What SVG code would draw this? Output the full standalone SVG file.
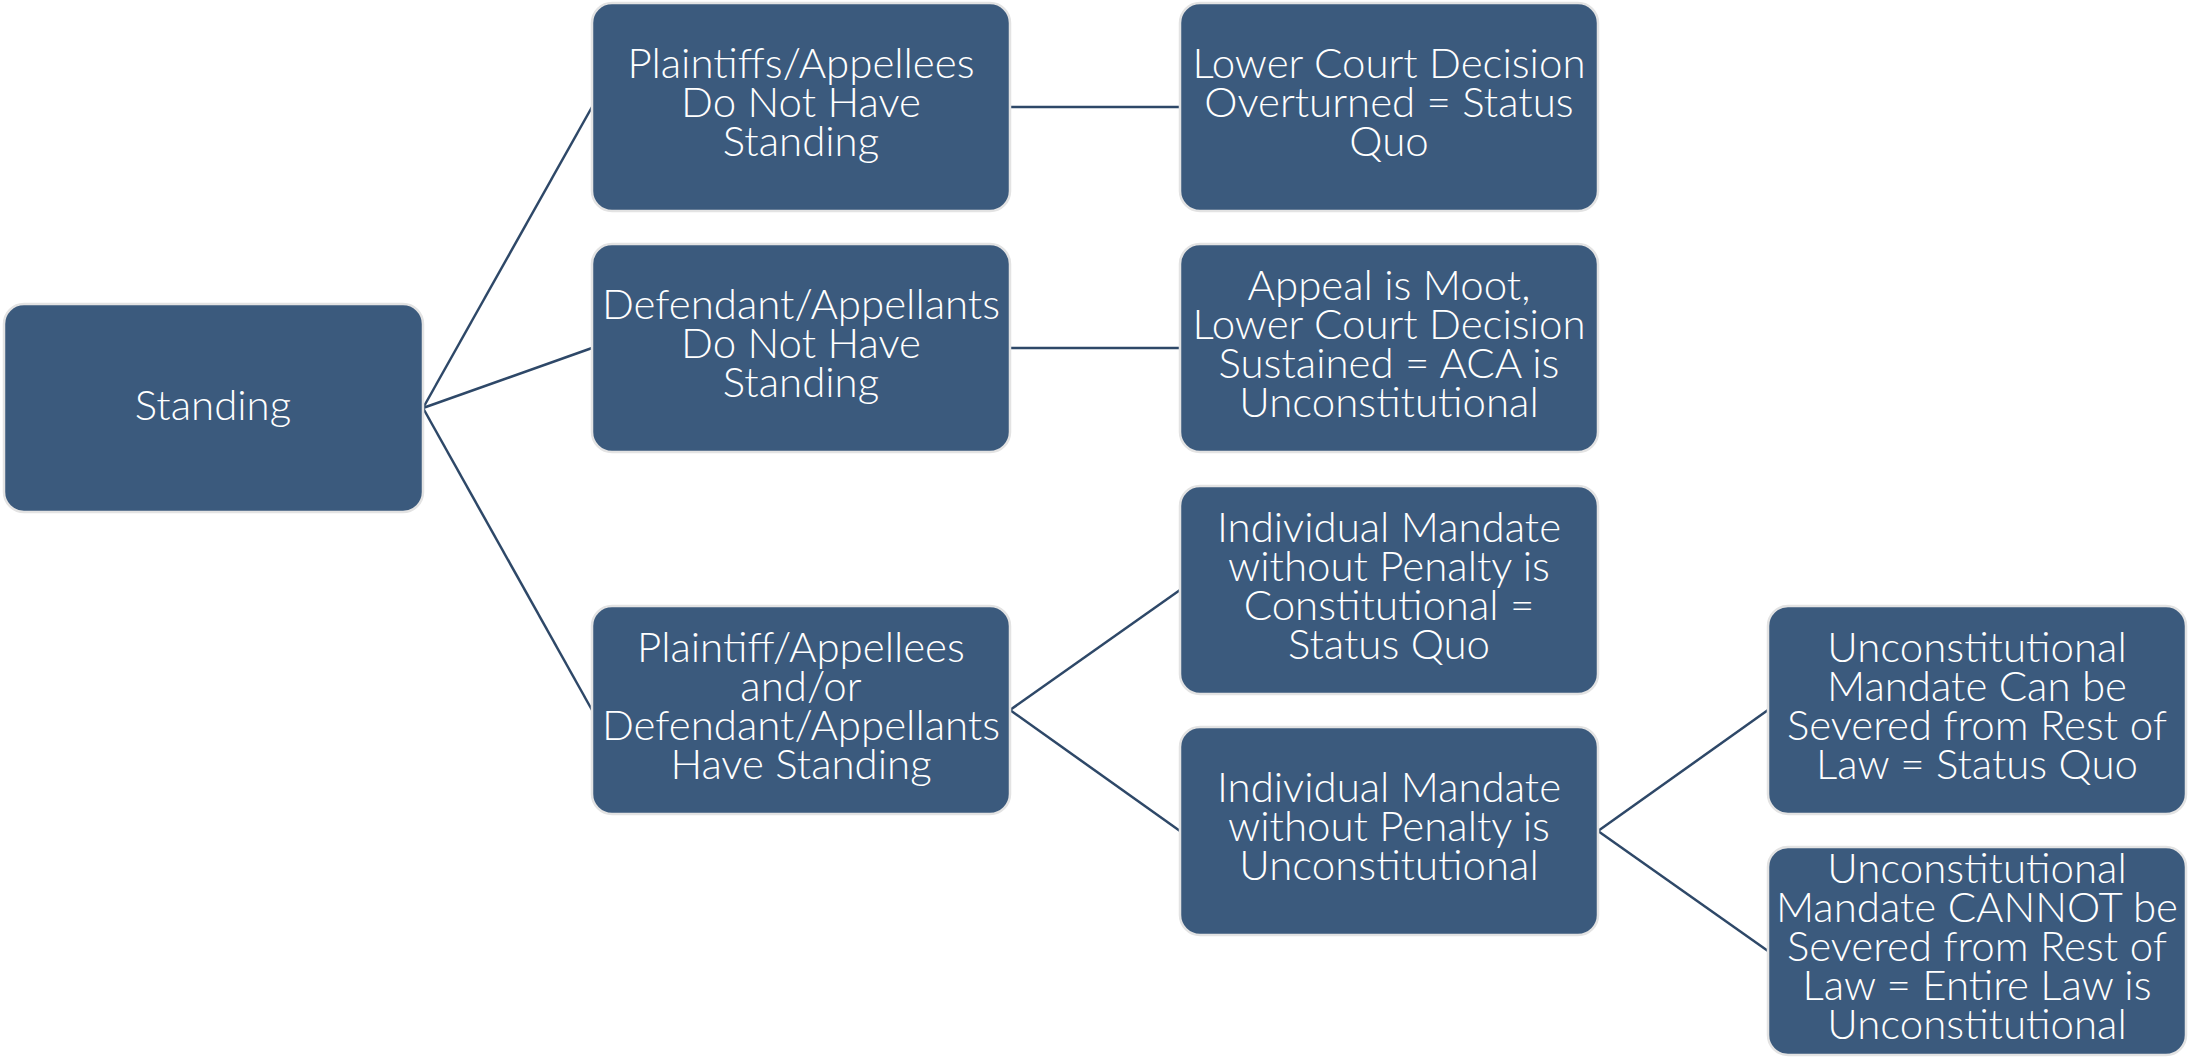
<svg xmlns="http://www.w3.org/2000/svg" width="2188" height="1060" viewBox="0 0 2188 1060">
<style>
.box{fill:#3B5A7D;stroke:#E3E3E3;stroke-width:2.5}
.t{font-family:"Lato","Open Sans","Liberation Sans",sans-serif;font-weight:300;font-size:42px;fill:#FFFFFF;text-anchor:middle}
.c{stroke:#2E4868;stroke-width:2.5;fill:none}
</style>
<rect width="2188" height="1060" fill="#FFFFFF"/>
<g id="connectors">
<line class="c" x1="423" y1="408" x2="592" y2="107"/>
<line class="c" x1="423" y1="408" x2="592" y2="348"/>
<line class="c" x1="423" y1="408" x2="592" y2="710"/>
<line class="c" x1="1010" y1="107" x2="1180" y2="107"/>
<line class="c" x1="1010" y1="348" x2="1180" y2="348"/>
<line class="c" x1="1010" y1="710" x2="1180" y2="590"/>
<line class="c" x1="1010" y1="710" x2="1180" y2="831"/>
<line class="c" x1="1598" y1="831" x2="1768" y2="710"/>
<line class="c" x1="1598" y1="831" x2="1768" y2="951"/>
</g>
<g id="standing">
<rect class="box" x="4" y="304" width="419" height="208" rx="20"/>
<text class="t" x="213" y="420">Standing</text>
</g>
<g id="p-no-standing">
<rect class="box" x="592" y="3" width="418" height="208" rx="20"/>
<text class="t" x="801" y="78">Plaintiffs/Appellees</text>
<text class="t" x="801" y="117">Do Not Have</text>
<text class="t" x="801" y="156">Standing</text>
</g>
<g id="d-no-standing">
<rect class="box" x="592" y="244" width="418" height="208" rx="20"/>
<text class="t" x="801" y="319">Defendant/Appellants</text>
<text class="t" x="801" y="358">Do Not Have</text>
<text class="t" x="801" y="397">Standing</text>
</g>
<g id="have-standing">
<rect class="box" x="592" y="606" width="418" height="208" rx="20"/>
<text class="t" x="801" y="662">Plaintiff/Appellees</text>
<text class="t" x="801" y="701">and/or</text>
<text class="t" x="801" y="740">Defendant/Appellants</text>
<text class="t" x="801" y="779">Have Standing</text>
</g>
<g id="overturned">
<rect class="box" x="1180" y="3" width="418" height="208" rx="20"/>
<text class="t" x="1389" y="78">Lower Court Decision</text>
<text class="t" x="1389" y="117">Overturned = Status</text>
<text class="t" x="1389" y="156">Quo</text>
</g>
<g id="moot">
<rect class="box" x="1180" y="244" width="418" height="208" rx="20"/>
<text class="t" x="1389" y="300">Appeal is Moot,</text>
<text class="t" x="1389" y="339">Lower Court Decision</text>
<text class="t" x="1389" y="378">Sustained = ACA is</text>
<text class="t" x="1389" y="417">Unconstitutional</text>
</g>
<g id="constitutional">
<rect class="box" x="1180" y="486" width="418" height="208" rx="20"/>
<text class="t" x="1389" y="542">Individual Mandate</text>
<text class="t" x="1389" y="581">without Penalty is</text>
<text class="t" x="1389" y="620">Constitutional =</text>
<text class="t" x="1389" y="659">Status Quo</text>
</g>
<g id="unconstitutional">
<rect class="box" x="1180" y="727" width="418" height="208" rx="20"/>
<text class="t" x="1389" y="802">Individual Mandate</text>
<text class="t" x="1389" y="841">without Penalty is</text>
<text class="t" x="1389" y="880">Unconstitutional</text>
</g>
<g id="severable">
<rect class="box" x="1768" y="606" width="418" height="208" rx="20"/>
<text class="t" x="1977" y="662">Unconstitutional</text>
<text class="t" x="1977" y="701">Mandate Can be</text>
<text class="t" x="1977" y="740">Severed from Rest of</text>
<text class="t" x="1977" y="779">Law = Status Quo</text>
</g>
<g id="not-severable">
<rect class="box" x="1768" y="847" width="418" height="208" rx="20"/>
<text class="t" x="1977" y="883">Unconstitutional</text>
<text class="t" x="1977" y="922">Mandate CANNOT be</text>
<text class="t" x="1977" y="961">Severed from Rest of</text>
<text class="t" x="1977" y="1000">Law = Entire Law is</text>
<text class="t" x="1977" y="1039">Unconstitutional</text>
</g>
</svg>
